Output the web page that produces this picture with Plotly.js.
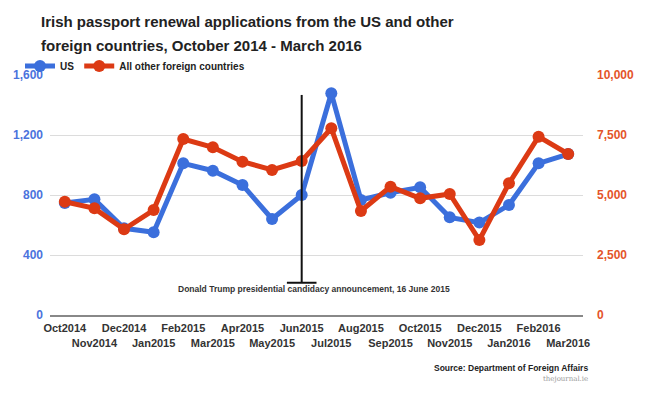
<!DOCTYPE html>
<html><head><meta charset="utf-8">
<script src="https://cdn.plot.ly/plotly-3.0.1.min.js"></script>
<style>body{margin:0;background:#fff}#chart{width:650px;height:397px}</style>
</head><body><div id="chart"></div>
<script>
const months = ["Oct2014","Nov2014","Dec2014","Jan2015","Feb2015","Mar2015","Apr2015","May2015","Jun2015","Jul2015","Aug2015","Sep2015","Oct2015","Nov2015","Dec2015","Jan2016","Feb2016","Mar2016"];
const usApps = [747,771,578,551,1011,962,867,640,800,1478,767,815,851,651,616,733,1011,1073];
const otherApps = [4721,4444,3570,4375,7333,6986,6389,6042,6417,7778,4333,5347,4861,5042,3125,5486,7431,6708];
const leftTicks = [0,400,800,1200,1600];
const rightTicks = [0,2500,5000,7500,10000];
const eventMonth = "Jun2015";
const eventLabel = "Donald Trump presidential candidacy announcement, 16 June 2015";
const titleLine1 = "Irish passport renewal applications from the US and other";
const titleLine2 = "foreign countries, October 2014 - March 2016";

const BLUE = "#3b6fdc", RED = "#dc3a14";
const xTickText = months.map((m,i)=> i%2 ? "<br>"+m : m);
const eventIdx = months.indexOf(eventMonth);

const traces = [
  {x: months, y: usApps, name: "US", type: "scatter", mode: "lines+markers",
   line: {color: BLUE, width: 5}, marker: {color: BLUE, size: 12}, yaxis: "y"},
  {x: months, y: otherApps, name: "All other foreign countries", type: "scatter", mode: "lines+markers",
   line: {color: RED, width: 5}, marker: {color: RED, size: 12}, yaxis: "y2"}
];

// plot area: x 50..583, y 75..315 (px)
const px = x => (x - 50) / 533;
const py = y => (315 - y) / 240;

const layout = {
  width: 650, height: 397,
  margin: {l: 50, r: 67, t: 75, b: 82},
  paper_bgcolor: "#fff", plot_bgcolor: "#fff",
  font: {family: "Liberation Sans, Arial, sans-serif"},
  title: {text: titleLine1,
    font: {size: 15, weight: 700, color: "#222"}, xref: "container", yref: "container",
    x: 41/650, xanchor: "left", y: 1 - 22/397, yanchor: "middle"},
  showlegend: true,
  legend: {orientation: "h", x: px(20), xanchor: "left", y: py(66), yanchor: "middle",
    font: {size: 10, weight: 700, color: "#222"}, bgcolor: "rgba(0,0,0,0)"},
  xaxis: {type: "category", range: [-0.5, months.length - 0.5], tickmode: "array",
    tickvals: months, ticktext: xTickText, ticks: "", showgrid: false, tickangle: 0,
    showline: true, linecolor: "#888", linewidth: 2, ticklabelstandoff: 2,
    tickfont: {size: 11, weight: 700, color: "#333"}, fixedrange: true},
  yaxis: {range: [0, 1600], tickmode: "array", tickvals: leftTicks,
    ticktext: leftTicks.map(v=>v.toLocaleString("en-US")),
    showgrid: true, gridcolor: "#dcdcdc", gridwidth: 1, zeroline: false, ticks: "",
    ticklabelstandoff: 6,
    tickfont: {size: 12, weight: 700, color: "#4b73dd"}},
  yaxis2: {range: [0, 10000], overlaying: "y", side: "right", tickmode: "array", tickvals: rightTicks,
    ticktext: rightTicks.map(v=>v.toLocaleString("en-US")),
    showgrid: false, zeroline: false, ticks: "", ticklabelstandoff: 13,
    tickfont: {size: 12, weight: 700, color: "#e4542a"}},
  shapes: [
    {type: "line", xref: "x", yref: "y", x0: eventIdx, x1: eventIdx, y0: 215, y1: 1467,
     line: {color: "#111", width: 2}},
    {type: "line", xref: "x", yref: "y", x0: eventIdx - 0.5, x1: eventIdx + 0.5, y0: 215, y1: 215,
     line: {color: "#111", width: 2}}
  ],
  annotations: [
    {text: titleLine2, xref: "paper", yref: "paper", x: px(39), y: py(45), showarrow: false,
     xanchor: "left", yanchor: "middle", font: {size: 15, weight: 700, color: "#222"}},
    {text: eventLabel, xref: "x", yref: "y", x: eventIdx + 0.42, y: 173, showarrow: false,
     xanchor: "center", yanchor: "middle", font: {size: 8.5, weight: 700, color: "#333"}},
    {text: "Source: Department of Foreign Affairs", xref: "paper", yref: "paper", x: px(590), y: py(368),
     showarrow: false, xanchor: "right", yanchor: "middle", font: {size: 8.5, weight: 700, color: "#222"}},
    {text: "thejournal.ie", xref: "paper", yref: "paper", x: px(590), y: py(379),
     showarrow: false, xanchor: "right", yanchor: "middle", font: {family: "DejaVu Serif, serif", size: 7, color: "#999"}}
  ]
};
Plotly.newPlot("chart", traces, layout, {displayModeBar: false, staticPlot: true});
</script></body></html>
